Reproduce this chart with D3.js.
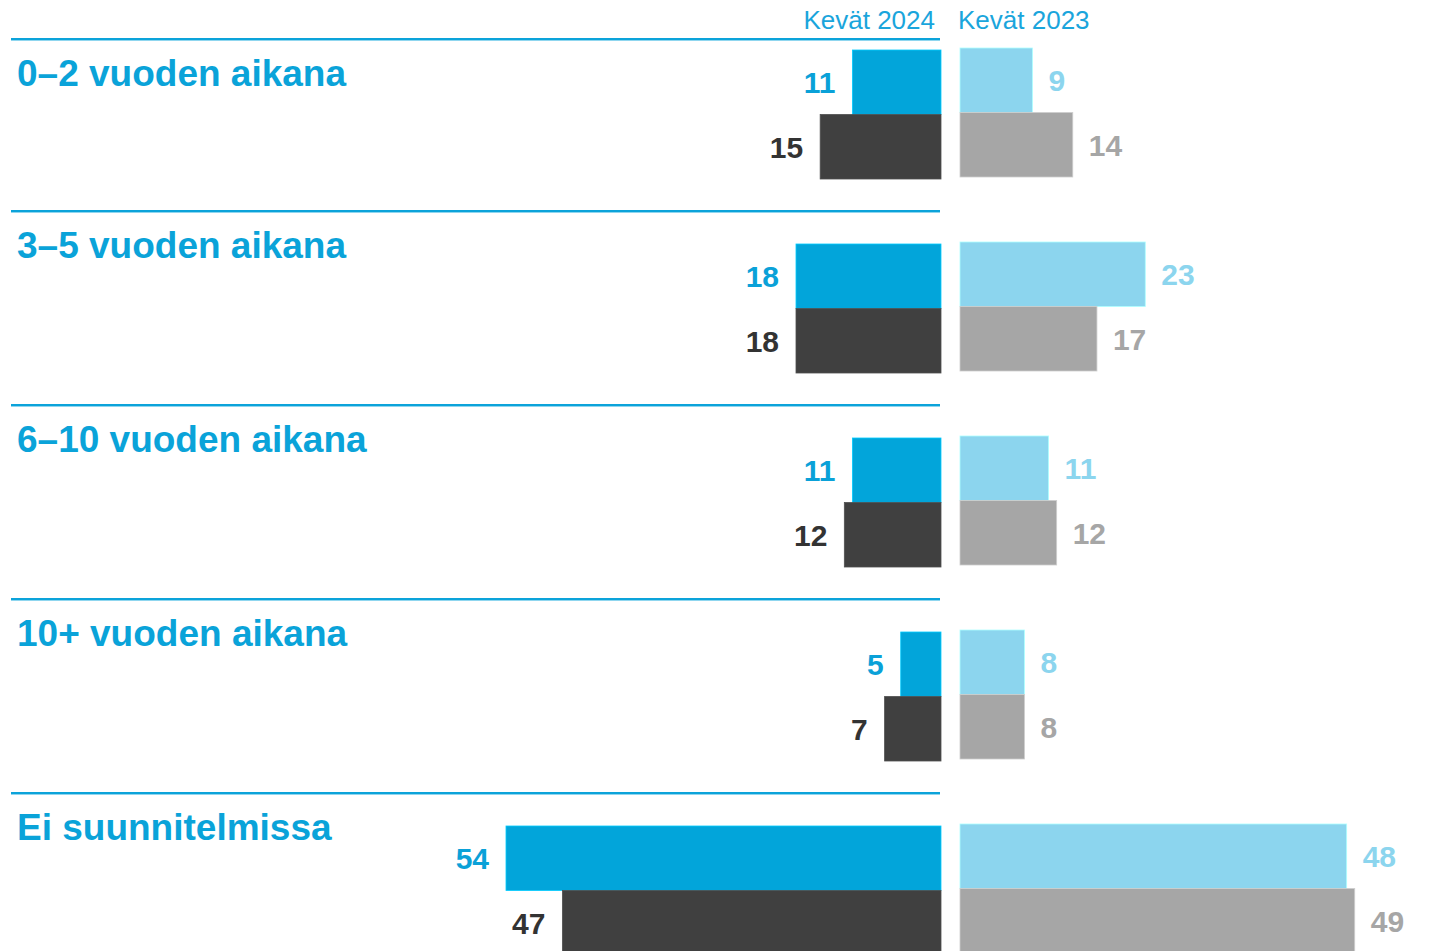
<!DOCTYPE html>
<html>
<head>
<meta charset="utf-8">
<script src="https://cdn.jsdelivr.net/npm/d3@7"></script>
<style>
  html, body { margin: 0; padding: 0; background: #fff; }
  svg { display: block; font-family: "Liberation Sans", Arial, sans-serif; }
</style>
</head>
<body>
<div id="chart"></div>
<script>
// categories and values (percent)
const categories = ["0–2 vuoden aikana", "3–5 vuoden aikana", "6–10 vuoden aikana", "10+ vuoden aikana", "Ei suunnitelmissa"];
const seriesNames = ["Kevät 2024", "Kevät 2023"];
// two bars per period: upper (blue) and lower (gray)
const spring2024Blue = [11, 18, 11, 5, 54];
const spring2024Gray = [15, 18, 12, 7, 47];
const spring2023Blue = [9, 23, 11, 8, 48];
const spring2023Gray = [14, 17, 12, 8, 49];

const width = 1432, height = 951;
const leftAxis = 941, rightAxis = 960;
const barH = 64.5;

const svg = d3.select("#chart").append("svg")
  .attr("width", width)
  .attr("height", height);

// x: percent -> bar length
const x = d3.scaleLinear().domain([0, 54]).range([0, 435]);

// y: one band per category
const y = d3.scaleBand()
  .domain(categories)
  .range([50, 50 + 194 * categories.length]);

// header
svg.append("text")
  .attr("x", 935).attr("y", 29)
  .attr("text-anchor", "end")
  .attr("font-size", 26)
  .attr("fill", "#1aa5dc")
  .text(seriesNames[0]);
svg.append("text")
  .attr("x", 958).attr("y", 29)
  .attr("font-size", 26)
  .attr("fill", "#1aa5dc")
  .text(seriesNames[1]);

// separators and category labels
const groups = svg.selectAll("g.cat")
  .data(categories)
  .enter().append("g")
  .attr("class", "cat");

const lineY = d => Math.max(39, y(d) - 33);

groups.append("line")
  .attr("x1", 11).attr("x2", 940)
  .attr("y1", d => lineY(d)).attr("y2", d => lineY(d))
  .attr("stroke", "#0ca3da")
  .attr("stroke-width", 2);
groups.append("line")
  .attr("x1", 11).attr("x2", 940)
  .attr("y1", d => lineY(d) + 1.5).attr("y2", d => lineY(d) + 1.5)
  .attr("stroke", "#8fd6ef")
  .attr("stroke-width", 1);

groups.append("text")
  .attr("x", 17)
  .attr("y", d => lineY(d) + 47)
  .attr("font-size", 37)
  .attr("font-weight", "bold")
  .attr("fill", "#0aa3d9")
  .text(d => d);

// bar rows: side, row offset, values, colours
const rows = [
  { values: spring2024Blue, side: "left", off: 0, fill: "#02a5da", text: "#0aa1d8", dy: 0 },
  { values: spring2024Gray, side: "left", off: 1, fill: "#404040", text: "#333333", dy: 0 },
  { values: spring2023Blue, side: "right", off: 0, fill: "#8cd5ee", text: "#8cd5ee", dy: -2 },
  { values: spring2023Gray, side: "right", off: 1, fill: "#a6a6a6", text: "#a6a6a6", dy: -2 }
];

rows.forEach(r => {
  const data = categories.map((c, i) => ({ cat: c, v: r.values[i] }));
  const top = d => y(d.cat) + r.off * barH + r.dy;
  const g = svg.append("g");

  g.selectAll("rect")
    .data(data)
    .enter().append("rect")
    .attr("x", d => r.side === "left" ? leftAxis - x(d.v) : rightAxis)
    .attr("y", top)
    .attr("width", d => x(d.v))
    .attr("height", barH)
    .attr("fill", r.fill)
    .attr("stroke", d3.color(r.fill).brighter(0.6))
    .attr("stroke-width", 0.8);

  g.selectAll("text")
    .data(data)
    .enter().append("text")
    .attr("x", d => r.side === "left" ? leftAxis - x(d.v) - 17 : rightAxis + x(d.v) + 16)
    .attr("y", d => top(d) + barH / 2 + 11)
    .attr("text-anchor", r.side === "left" ? "end" : "start")
    .attr("font-size", 30)
    .attr("font-weight", "bold")
    .attr("fill", r.text)
    .text(d => d.v);
});
</script>
</body>
</html>
